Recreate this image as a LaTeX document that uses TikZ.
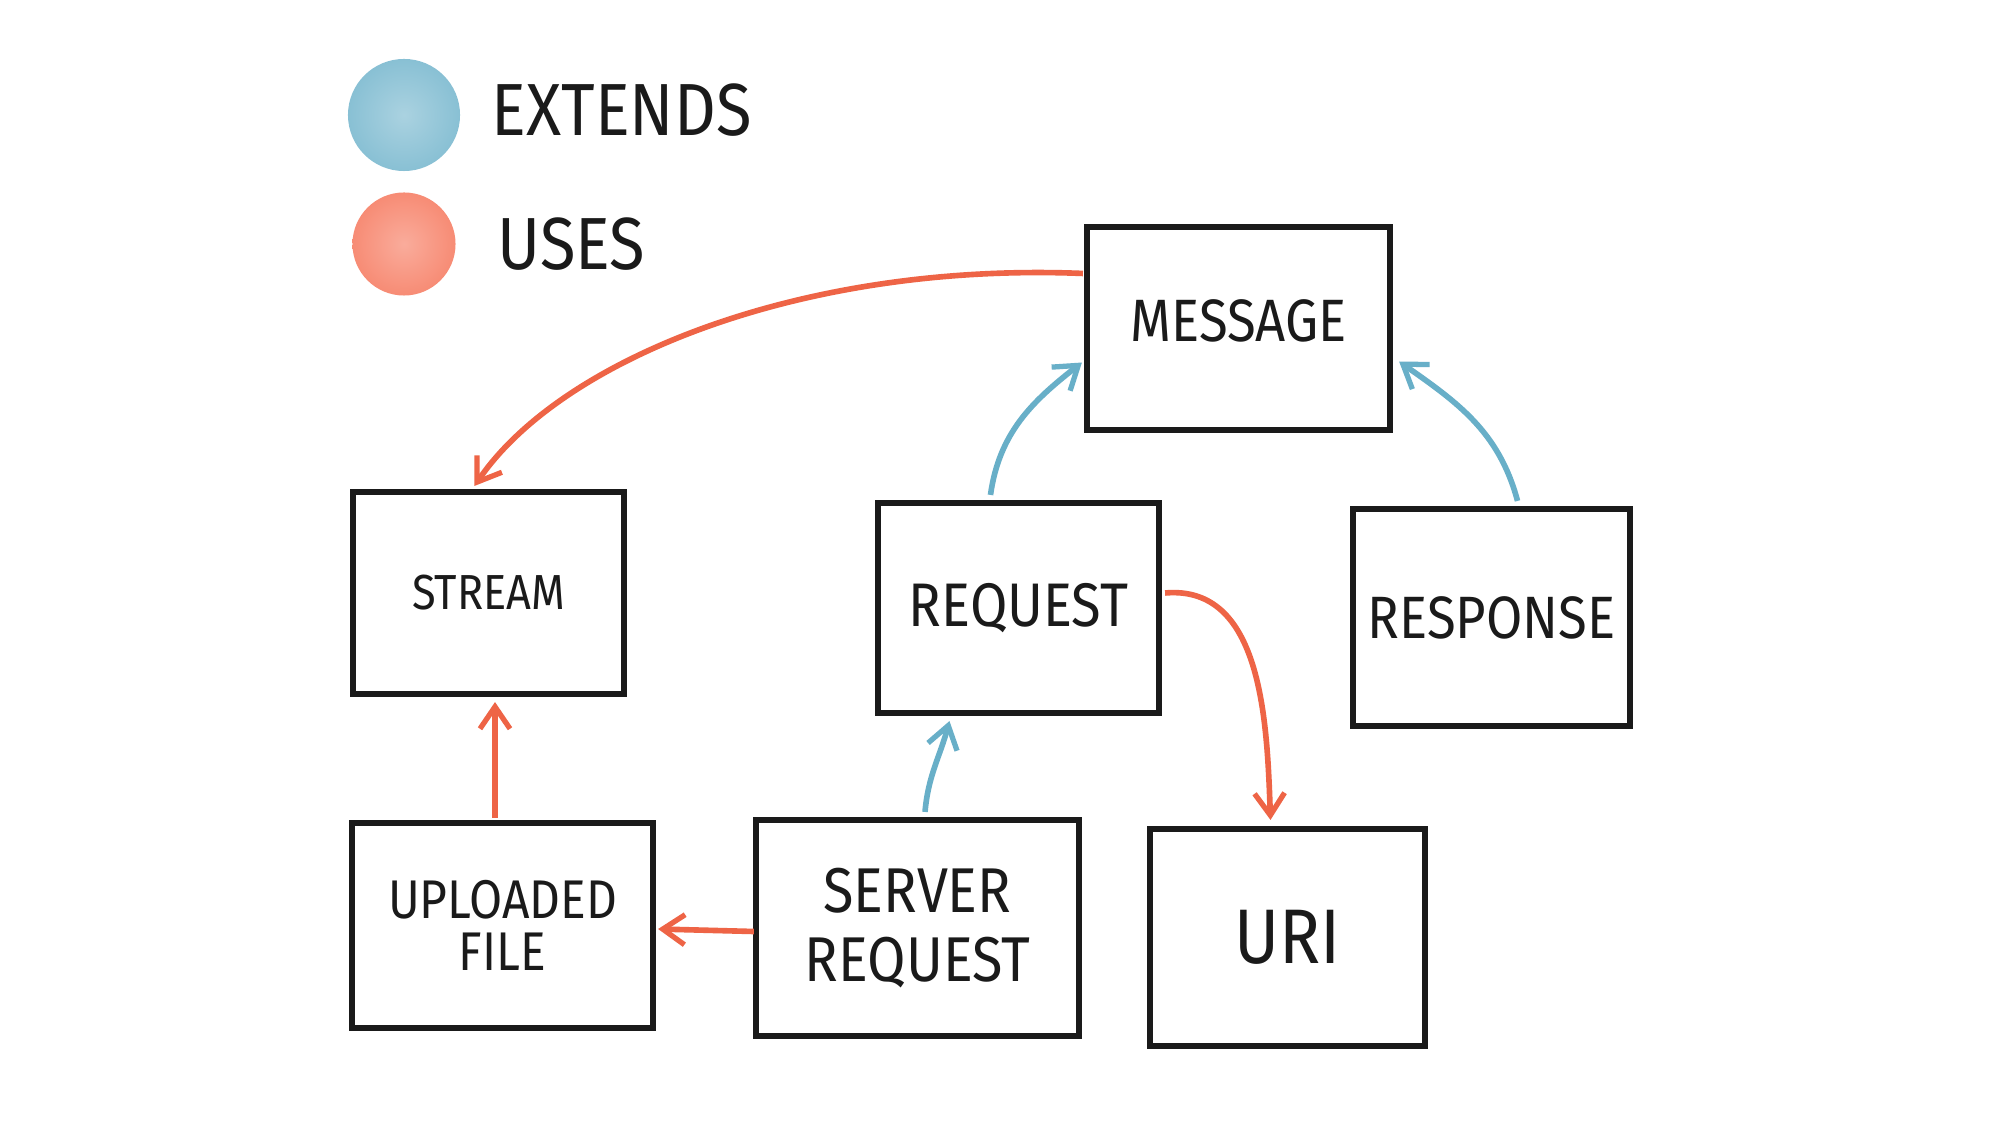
\documentclass[tikz,border=0pt]{standalone}
\usepackage{fontspec}
\setmainfont{Fira Sans}[FakeStretch=0.88]
\usetikzlibrary{arrows.meta}
\definecolor{usecol}{HTML}{EE6446}
\definecolor{extcol}{HTML}{68AFC8}
\definecolor{blobblue}{HTML}{8EC3D6}
\definecolor{blobsalmon}{HTML}{F8907A}
\definecolor{ink}{HTML}{1A1A1A}
\tikzset{
  box/.style={draw=ink, line width=1.5pt, fill=white, inner sep=0pt, outer sep=0pt, align=center, text=ink},
  uses/.style={draw=usecol, line width=1.6pt, -{Straight Barb[length=2.2mm,width=3mm,line width=1.5pt]}},
  ext/.style={draw=extcol, line width=1.6pt, -{Straight Barb[length=2.2mm,width=3mm,line width=1.5pt]}},
  legendtext/.style={anchor=west, inner sep=0pt, text=ink, font=\fontsize{21}{24}\selectfont},
  blob/.style={circle, inner sep=0pt},
}
\begin{document}
\begin{tikzpicture}[x=0.01cm, y=-0.01cm]
\useasboundingbox[fill=white] (0,0) rectangle (2000,1125);
% legend
\node[blob, minimum size=1.12cm, inner color=blobblue!75!white, outer color=blobblue!85!extcol] (extblob) at (404,115) {};
\node[blob, minimum size=1.03cm, inner color=blobsalmon!75!white, outer color=blobsalmon!90!usecol] (useblob) at (404,244) {};
\node[legendtext] (extlabel) at (491,110) {EXTENDS};
\node[legendtext] (uselabel) at (497,244) {USES};
% boxes
\node[box, minimum width=3.03cm, minimum height=2.03cm, font=\fontsize{17}{20}\selectfont] (message) at (1238.5,328.5) {\raisebox{0.16cm}{MESSAGE}};
\node[box, minimum width=2.71cm, minimum height=2.02cm, font=\fontsize{14}{17}\selectfont] (stream) at (488.5,593) {STREAM};
\node[box, minimum width=2.81cm, minimum height=2.10cm, font=\fontsize{17.5}{20}\selectfont] (request) at (1018.5,608) {REQUEST};
\node[box, minimum width=2.77cm, minimum height=2.17cm, font=\fontsize{17}{20}\selectfont] (response) at (1491.5,617.5) {RESPONSE};
\node[box, minimum width=3.01cm, minimum height=2.05cm, font=\fontsize{15.5}{15}\selectfont] (uploaded) at (502.5,925.5) {UPLOADED\\FILE};
\node[box, minimum width=3.23cm, minimum height=2.16cm, font=\fontsize{18}{19.5}\selectfont] (server) at (917.5,928) {SERVER\\REQUEST};
\node[box, minimum width=2.75cm, minimum height=2.17cm, font=\fontsize{22}{26}\selectfont] (uri) at (1287.5,937.5) {URI};
% connectors
\draw[uses] ([xshift=-0.04cm,yshift=0.55cm]message.west) .. controls (800,262) and (560,360) .. ([xshift=-0.14cm,yshift=0.06cm]stream.north);
\draw[ext] ([xshift=-0.28cm,yshift=0.08cm]request.north) to[out=82,in=218] ([xshift=-0.05cm,yshift=-0.34cm]message.west);
\draw[ext] ([xshift=0.26cm,yshift=0.08cm]response.north) to[out=105,in=-35] ([xshift=0.09cm,yshift=-0.33cm]message.east);
\draw[uses] ([xshift=0.06cm,yshift=0.15cm]request.east) to[out=5,in=92] ([xshift=-0.17cm,yshift=0.09cm]uri.north);
\draw[ext] ([xshift=0.075cm,yshift=0.08cm]server.north) to[out=85,in=255] ([xshift=-0.69cm,yshift=-0.08cm]request.south);
\draw[uses] ([xshift=-0.075cm,yshift=0.05cm]uploaded.north) -- ([xshift=0.065cm,yshift=-0.08cm]stream.south);
\draw[uses] ([xshift=-0.02cm,yshift=-0.035cm]server.west) -- ([xshift=0.05cm,yshift=-0.035cm]uploaded.east);
\end{tikzpicture}
\end{document}
